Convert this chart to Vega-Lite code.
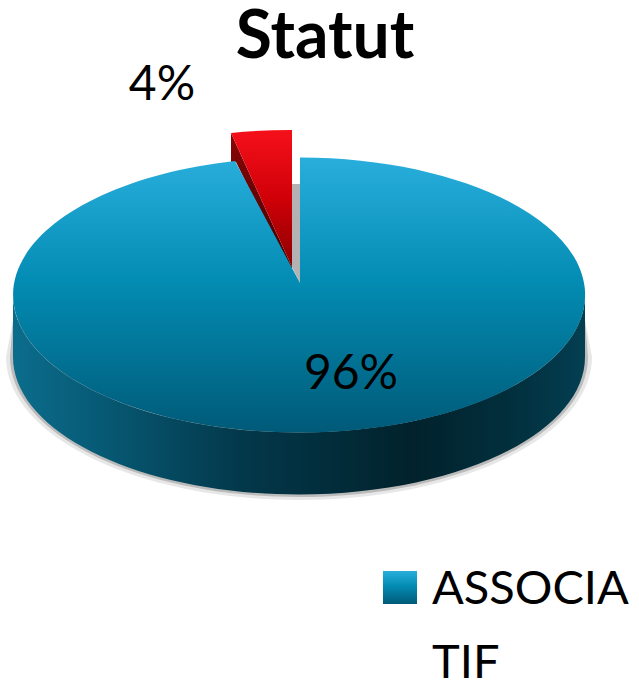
{
"$schema":"https://vega.github.io/schema/vega-lite/v6.json",
"width":598,"height":590,
"padding":{"left":0,"top":0,"right":41,"bottom":92},
"autosize":"none",
"background":"white",
"view":{"stroke":null},
"data":{"values":[{"statut":"ASSOCIATIF","part":0.96},{"statut":"Autre","part":0.04}]},
"layer":[
{"transform":[{"filter":"datum.statut=='ASSOCIATIF'"}],
 "mark":{"type":"point","filled":true,"opacity":0.14,"size":4,"fill":"#555555","strokeWidth":0,"shape":"M-286,25 L-293,62 A293,143 0 0 0 293,62 L286,25 Z"}},
{"transform":[{"filter":"datum.statut=='ASSOCIATIF'"}],
 "mark":{"type":"point","filled":true,"opacity":0.3,"size":4,"fill":"#555555","strokeWidth":0,"shape":"M-286,25 L-289,62 A289,140 0 0 0 289,62 L286,25 Z"}},
{"transform":[{"filter":"datum.statut=='ASSOCIATIF'"}],
 "mark":{"type":"point","filled":true,"opacity":1,"size":4,"strokeWidth":0,"shape":"M-286,0 L-286,62 A286,137.5 0 0 0 286,62 L286,0 A286,137.5 0 0 1 -286,0 Z",
 "fill":{"gradient":"linear","x1":0,"y1":0,"x2":1,"y2":0,"stops":[{"offset":0,"color":"#0b6d8c"},{"offset":0.15,"color":"#075a75"},{"offset":0.4,"color":"#03384a"},{"offset":0.7,"color":"#01222c"},{"offset":0.88,"color":"#02303e"},{"offset":1,"color":"#033f52"}]}}},
{"transform":[{"filter":"datum.statut=='Autre'"}],
 "mark":{"type":"point","filled":true,"opacity":1,"size":4,"strokeWidth":0,"shape":"M-7,-111 L1,-111 L1,-12 L-7,-28 Z","fill":"#b4b2b2"}},
{"transform":[{"filter":"datum.statut=='Autre'"}],
 "mark":{"type":"point","filled":true,"opacity":1,"size":4,"strokeWidth":0,"shape":"M-68,-162 L-7,-28 L-7,-18 L-63,-133 L-68,-133 Z",
 "fill":{"gradient":"linear","x1":0,"y1":0,"x2":0,"y2":1,"stops":[{"offset":0,"color":"#8a0606"},{"offset":1,"color":"#3c0000"}]}}},
{"transform":[{"filter":"datum.statut=='ASSOCIATIF'"}],
 "mark":{"type":"point","filled":true,"opacity":1,"size":4,"strokeWidth":0,"shape":"M1,-12 L1,-137.5 A286,137.5 0 1 1 -64,-134 Z",
 "fill":{"gradient":"linear","x1":0,"y1":0,"x2":0,"y2":1,"stops":[{"offset":0,"color":"#29aedc"},{"offset":0.45,"color":"#038cb3"},{"offset":1,"color":"#005a78"}]}}},
{"transform":[{"filter":"datum.statut=='Autre'"}],
 "mark":{"type":"point","filled":true,"opacity":1,"size":4,"strokeWidth":0,"shape":"M-7,-28 L-7,-165 A286,137.5 0 0 0 -68,-162 Z",
 "fill":{"gradient":"linear","x1":0,"y1":0,"x2":0,"y2":1,"stops":[{"offset":0,"color":"#f5101a"},{"offset":0.5,"color":"#d00008"},{"offset":1,"color":"#8a0000"}]}}},
{"transform":[{"filter":"datum.statut=='ASSOCIATIF'"}],
 "mark":{"type":"text","font":"Lato","fontSize":48,"color":"#000000","dx":52,"dy":80,"align":"center","baseline":"middle"},
 "encoding":{"text":{"field":"part","type":"quantitative","format":".0%"}}},
{"transform":[{"filter":"datum.statut=='Autre'"}],
 "mark":{"type":"text","font":"Lato","fontSize":48,"color":"#000000","dx":-137,"dy":-209,"align":"center","baseline":"middle"},
 "encoding":{"text":{"field":"part","type":"quantitative","format":".0%"}}},
{"transform":[{"filter":"datum.statut=='ASSOCIATIF'"}],
 "mark":{"type":"text","text":"Statut","font":"Lato","fontSize":66,"fontWeight":"bold","color":"#000000","dx":26,"dy":-237,"align":"center","baseline":"alphabetic"}},
{"transform":[{"filter":"datum.statut=='ASSOCIATIF'"}],
 "mark":{"type":"point","filled":true,"opacity":1,"size":4,"strokeWidth":0,"shape":"M84,276 L118,276 L118,309 L84,309 Z",
 "fill":{"gradient":"linear","x1":0,"y1":0,"x2":0,"y2":1,"stops":[{"offset":0,"color":"#29aedc"},{"offset":0.45,"color":"#038cb3"},{"offset":1,"color":"#005a78"}]}}},
{"transform":[{"filter":"datum.statut=='ASSOCIATIF'"}],
 "mark":{"type":"text","text":["ASSOCIA","TIF"],"lineHeight":74,"font":"Lato","fontSize":47,"color":"#000000","dx":133,"dy":309,"align":"left","baseline":"alphabetic"}}
]
}
